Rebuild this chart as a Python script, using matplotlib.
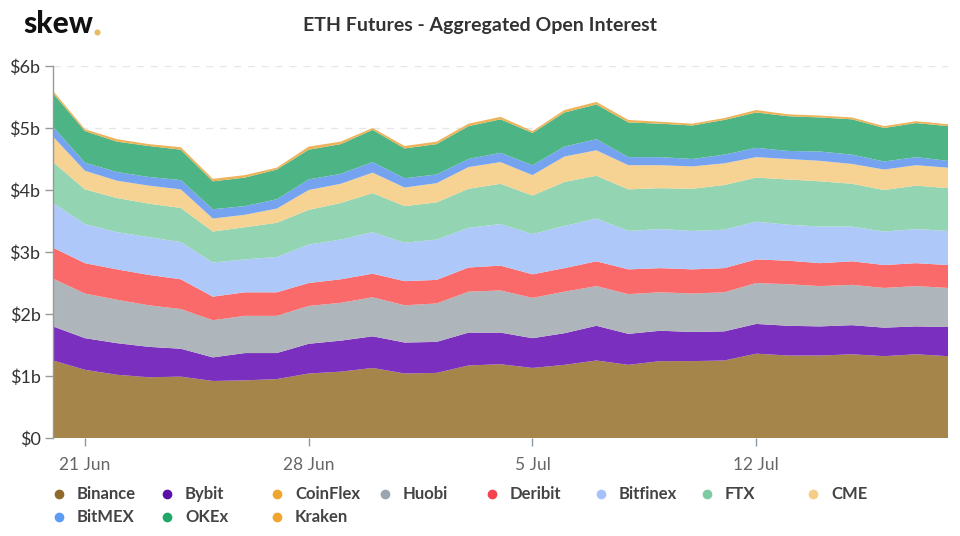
import numpy as np
import pandas as pd
import matplotlib
matplotlib.use("Agg")
import matplotlib.pyplot as plt

plt.rcParams['font.family'] = ['Lato', 'DejaVu Sans']

dates = pd.date_range("2021-06-20", "2021-07-18", freq="D")

# Upper edge of each stacked band, in $ billions
top_binance = [1.25,1.10,1.02,0.98,0.99,0.92,0.93,0.95,1.04,1.07,1.13,1.04,1.05,1.17,1.19,1.13,1.18,1.25,1.18,1.24,1.24,1.25,1.36,1.33,1.33,1.35,1.32,1.35,1.32]
top_bybit = [1.80,1.61,1.53,1.47,1.44,1.30,1.37,1.37,1.52,1.57,1.64,1.54,1.55,1.70,1.70,1.61,1.69,1.81,1.68,1.73,1.71,1.72,1.84,1.81,1.80,1.82,1.78,1.80,1.79]
top_coinflex = [1.80,1.61,1.53,1.47,1.44,1.30,1.37,1.37,1.52,1.57,1.64,1.54,1.55,1.70,1.70,1.61,1.69,1.81,1.68,1.73,1.71,1.72,1.84,1.81,1.80,1.82,1.78,1.80,1.79]
top_huobi = [2.57,2.33,2.23,2.14,2.08,1.90,1.97,1.97,2.13,2.18,2.27,2.14,2.17,2.36,2.38,2.26,2.36,2.45,2.32,2.35,2.33,2.35,2.50,2.48,2.45,2.47,2.42,2.45,2.42]
top_deribit = [3.07,2.82,2.72,2.63,2.56,2.28,2.35,2.35,2.50,2.56,2.65,2.53,2.55,2.75,2.78,2.64,2.74,2.85,2.72,2.74,2.72,2.74,2.88,2.86,2.82,2.85,2.79,2.82,2.79]
top_bitfinex = [3.79,3.45,3.32,3.24,3.16,2.83,2.88,2.92,3.12,3.20,3.32,3.15,3.20,3.39,3.45,3.29,3.42,3.54,3.34,3.37,3.34,3.36,3.49,3.44,3.41,3.41,3.33,3.37,3.34]
top_ftx = [4.45,4.01,3.87,3.78,3.71,3.33,3.40,3.47,3.68,3.79,3.95,3.74,3.80,4.02,4.10,3.91,4.13,4.23,4.01,4.03,4.02,4.08,4.20,4.17,4.14,4.10,4.00,4.07,4.03]
top_cme = [4.86,4.31,4.15,4.07,4.01,3.54,3.60,3.70,4.00,4.10,4.28,4.04,4.11,4.37,4.45,4.24,4.54,4.64,4.40,4.40,4.38,4.43,4.53,4.50,4.47,4.42,4.33,4.40,4.36]
top_bitmex = [5.02,4.44,4.29,4.21,4.16,3.69,3.74,3.85,4.17,4.26,4.45,4.19,4.25,4.50,4.60,4.40,4.70,4.82,4.53,4.53,4.50,4.57,4.68,4.63,4.62,4.57,4.46,4.53,4.47]
top_okex = [5.56,4.95,4.78,4.71,4.65,4.14,4.20,4.33,4.65,4.74,4.97,4.67,4.74,5.03,5.14,4.92,5.25,5.38,5.09,5.07,5.04,5.13,5.25,5.19,5.17,5.14,5.00,5.08,5.03]
top_kraken = [5.60,4.98,4.82,4.74,4.69,4.18,4.24,4.36,4.70,4.78,5.00,4.71,4.78,5.07,5.18,4.95,5.29,5.42,5.13,5.10,5.07,5.16,5.29,5.22,5.20,5.17,5.03,5.11,5.06]

names = ["Binance","Bybit","CoinFlex","Huobi","Deribit","Bitfinex","FTX","CME","BitMEX","OKEx","Kraken"]
tops = [top_binance,top_bybit,top_coinflex,top_huobi,top_deribit,top_bitfinex,top_ftx,top_cme,top_bitmex,top_okex,top_kraken]
fills = ["#A5854A","#7B2FBE","#EDB35A","#AEB6BB","#FB6A6A","#AEC8FA","#93D4B2","#F6D293","#76A3F0","#4DB585","#EDB35A"]
dots = ["#8F6A2A","#5A0FA8","#EFA52E","#9BA5AD","#F5424E","#A5C3FA","#7CCBA2","#F6CD87","#5E9BF2","#1FA868","#EFA52E"]
yticks = [0,1,2,3,4,5,6]
ylabels = ["$0","$1b","$2b","$3b","$4b","$5b","$6b"]
xticks = ["2021-06-21","2021-06-28","2021-07-05","2021-07-12"]
xlabels = ["21 Jun","28 Jun","5 Jul","12 Jul"]

W, H = 960, 536
fig = plt.figure(figsize=(W/100, H/100), dpi=100, facecolor="white")
L, R, T, B = 53, 948, 66, 438
ax = fig.add_axes([L/W, 1-B/H, (R-L)/W, (B-T)/H])

values = np.diff(np.vstack([np.zeros(len(dates))] + [np.array(t) for t in tops]), axis=0)
ax.stackplot(dates, values, colors=fills, labels=names, linewidth=0, zorder=3)

ax.set_xlim(dates[0], dates[-1])
ax.set_ylim(0, 6)
ax.set_yticks(yticks, ylabels)
ax.set_xticks(pd.to_datetime(xticks), xlabels)
ax.grid(axis="y", color="#E6E6E6", linestyle=(0, (5, 5)), linewidth=1, zorder=0)
for s in ("top", "right", "bottom"):
    ax.spines[s].set_visible(False)
ax.spines["left"].set_color("#999999")
ax.spines["left"].set_linewidth(1)
ax.spines["left"].set_zorder(5)
ax.tick_params(axis="y", length=6, width=1, color="#999999", labelsize=13, labelcolor="#333333", pad=3)
ax.tick_params(axis="x", length=6, width=1, color="#8B98A8", labelsize=12.5, labelcolor="#666666", pad=8)

fig.text(480/W, 1-25.5/H, "ETH Futures - Aggregated Open Interest", ha="center", va="center",
         fontsize=14, fontweight="bold", color="#333333")
fig.text(23/W, 1-24/H, "skew", ha="left", va="center", fontsize=21.5, fontweight="black", color="#111111")
fig.add_artist(plt.Line2D([96.5/W], [1-32/H], marker="o", ms=4.4, color="#E8BC62", mew=0, transform=fig.transFigure))

# legend laid out in two rows, as in the reference
col_x = [59, 167, 277, 385, 492, 601, 707, 813]
rows = [494, 517]
for i, (n, c) in enumerate(zip(names, dots)):
    r, k = (0, i) if i < 8 else (1, i - 8)
    x, y = col_x[k], rows[r]
    fig.add_artist(plt.Line2D([x/W], [1-y/H], marker="o", ms=7, color=c, mew=0, transform=fig.transFigure))
    fig.text((x+18)/W, 1-y/H, n, ha="left", va="center", fontsize=12, fontweight="bold", color="#444444")

fig.savefig("out.png", dpi=100)
